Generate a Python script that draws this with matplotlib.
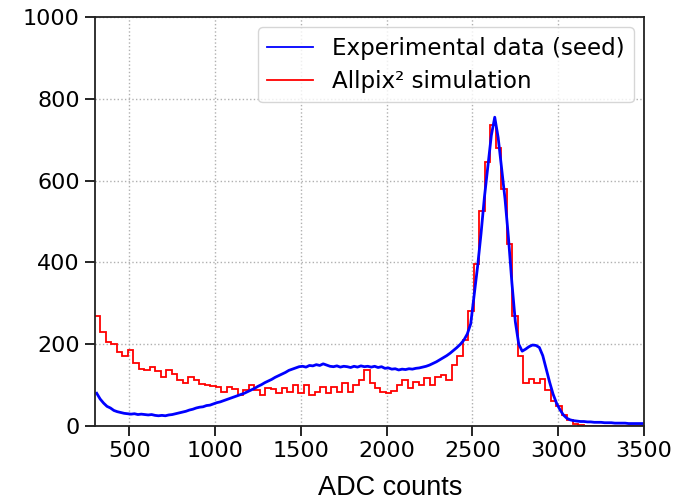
import numpy as np
import matplotlib
matplotlib.use("Agg")
import matplotlib.pyplot as plt

# Experimental data (seed): 20-ADC bins starting at 300
exp_start, exp_width = 300, 20
exp_counts = [
    80, 66, 56, 48, 44, 38, 35, 33, 31, 30,
    29, 30, 28, 29, 28, 27, 28, 26, 25, 26,
    25, 27, 28, 30, 32, 34, 36, 39, 41, 44,
    46, 47, 50, 51, 54, 57, 59, 62, 65, 68,
    71, 74, 77, 80, 84, 88, 92, 97, 101, 106,
    110, 114, 119, 123, 127, 131, 136, 139, 142, 145,
    146, 144, 148, 147, 150, 148, 152, 149, 146, 145,
    147, 144, 146, 145, 143, 146, 144, 147, 145, 146,
    144, 146, 143, 145, 141, 142, 139, 140, 137, 139,
    138, 140, 139, 141, 142, 144, 146, 149, 153, 157,
    162, 167, 172, 178, 185, 192, 200, 210, 225, 250,
    320, 390, 470, 560, 635, 710, 755, 705, 630, 555,
    460, 350, 255, 200, 183, 188, 194, 198, 197, 192,
    172, 140, 107, 78, 56, 40, 27, 19, 15, 13,
    12, 11, 11, 10, 10, 9, 9, 9, 8, 8,
    8, 7, 7, 7, 7, 6, 6, 6, 6, 6,
]

# Allpix^2 simulation: 32-ADC bins starting at 300
sim_start, sim_width = 300, 32
sim_counts = [
    270, 231, 205, 200, 180, 170, 185, 155, 140, 137,
    145, 135, 121, 137, 128, 112, 104, 121, 112, 102,
    100, 98, 95, 84, 96, 90, 76, 88, 100, 88,
    76, 92, 90, 80, 92, 84, 100, 80, 100, 76,
    84, 96, 80, 96, 84, 104, 84, 100, 112, 137,
    104, 92, 82, 80, 86, 100, 112, 92, 108, 100,
    117, 100, 121, 125, 112, 150, 170, 210, 280, 395,
    525, 645, 735, 680, 580, 446, 270, 170, 104, 115,
    105, 115, 88, 60, 48, 28, 15, 6, 2, 1,
    0, 0, 0, 0, 0, 0, 0, 0, 0, 0,
]

x_ticks = [500, 1000, 1500, 2000, 2500, 3000, 3500]
y_ticks = [0, 200, 400, 600, 800, 1000]

exp_centers = exp_start + exp_width * (np.arange(len(exp_counts)) + 0.5)
sim_edges = sim_start + sim_width * np.arange(len(sim_counts) + 1)

fig = plt.figure(figsize=(6.83, 5.03), dpi=100)
ax = fig.add_axes([95 / 683, 1 - 426 / 503, (644 - 95) / 683, (426 - 17) / 503])

ax.plot(exp_centers, exp_counts, color=(0, 0, 1), lw=2.0,
        label="Experimental data (seed)")
ax.stairs(sim_counts, sim_edges, baseline=None, color=(1, 0, 0), lw=1.3,
          label="Allpix² simulation")

ax.set_xlim(300, 3500)
ax.set_ylim(0, 1000)
ax.set_xticks(x_ticks)
ax.set_yticks(y_ticks)
ax.tick_params(labelsize=16, length=7, width=1.2, pad=4)
ax.grid(True, linestyle=":", color="#b0b0b0", lw=1)
ax.set_axisbelow(True)
for s in ax.spines.values():
    s.set_linewidth(1.3)
    s.set_color("#222222")

leg = ax.legend(loc="upper right", fontsize=16.6, handlelength=2.0, borderpad=0.4,
                labelspacing=0.45, handletextpad=0.8, borderaxespad=0.45,
                bbox_to_anchor=(1, 1))
for h in leg.get_lines():
    h.set_linewidth(1.3)

fig.text(390 / 683, 1 - 488 / 503, "ADC counts", family="Liberation Sans",
         fontsize=19.5, ha="center", va="center")

fig.savefig("out.png", dpi=100)
